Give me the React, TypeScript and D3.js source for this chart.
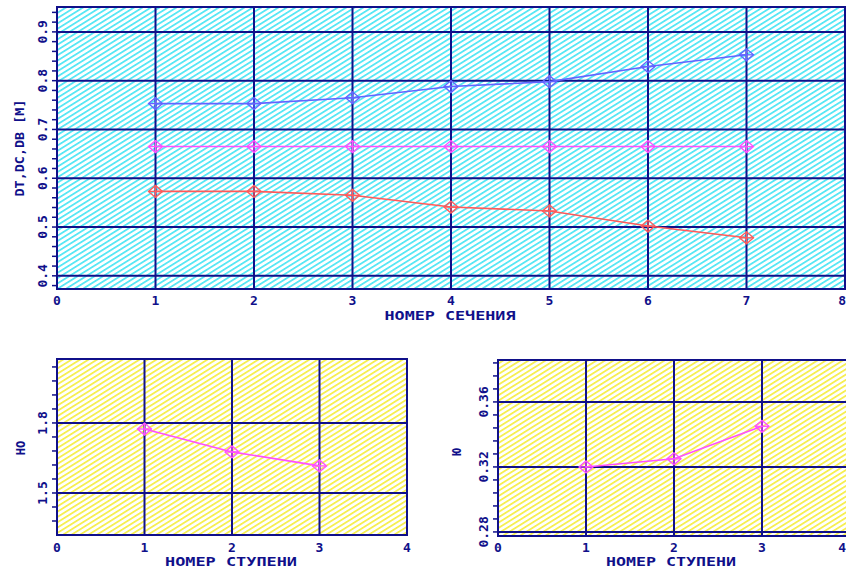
import React from 'react'
import * as d3 from 'd3'

// top chart: diameters by section number
const sections = [1, 2, 3, 4, 5, 6, 7]
const dtValues = [0.753, 0.753, 0.765, 0.788, 0.798, 0.829, 0.853]
const dcValues = [0.665, 0.665, 0.665, 0.665, 0.665, 0.665, 0.665]
const dbValues = [0.573, 0.573, 0.565, 0.541, 0.533, 0.502, 0.478]
const topYTicks = [0.4, 0.5, 0.6, 0.7, 0.8, 0.9]
const topYLabels = ['0.4', '0.5', '0.6', '0.7', '0.8', '0.9']

// bottom charts: by stage number
const stages = [1, 2, 3]
const hoValues = [1.774, 1.676, 1.616]
const hoYTicks = [1.5, 1.8]
const hoYLabels = ['1.5', '1.8']
const rhoValues = [0.32, 0.325, 0.345]
const rhoYTicks = [0.28, 0.32, 0.36]
const rhoYLabels = ['0.28', '0.32', '0.36']

const NAVY = '#10108a'
const FONT = '"DejaVu Sans Mono", monospace'
const W = 846

type PanelProps = {
  id: string
  x0: number; x1: number; y0: number; y1: number
  xMax: number
  yDomain: [number, number]
  yTicks: number[]
  yLabels: string[]
  minorStep: number
  labelX: number
  xTickY: number
  ylabel: string
  ylabelX: number
  ylabelY: number
  ylabelLen?: number
  xlabel: string
  xlabelX: number
  xlabelY: number
  xlabelLen: number
  series: { values: number[]; color: string }[]
  xs: number[]
}

function Marker({ cx, cy, color }: { cx: number; cy: number; color: string }) {
  const w = 7, h = 6
  return (
    <g stroke={color} strokeWidth={1.3} fill="none">
      <path d={`M${cx - w},${cy}L${cx},${cy - h}L${cx + w},${cy}L${cx},${cy + h}Z`} />
      <line x1={cx - w} x2={cx + w} y1={cy} y2={cy} />
      <line x1={cx} x2={cx} y1={cy - h} y2={cy + h} />
    </g>
  )
}

function Panel(p: PanelProps) {
  const x = d3.scaleLinear().domain([0, p.xMax]).range([p.x0, p.x1])
  const y = d3.scaleLinear().domain(p.yDomain).range([p.y1, p.y0])
  const minor = d3.range(Math.ceil(p.yDomain[0] / p.minorStep), Math.floor(p.yDomain[1] / p.minorStep) + 1)
    .map(k => k * p.minorStep)
  const line = d3.line<number>().x((d, i) => x(p.xs[i])).y(d => y(d))
  return (
    <g>
      <rect x={p.x0} y={p.y0} width={p.x1 - p.x0} height={p.y1 - p.y0} fill={`url(#${p.id})`} />
      {d3.range(1, p.xMax).map(v => (
        <line key={'vx' + v} x1={x(v)} x2={x(v)} y1={p.y0} y2={p.y1} stroke={NAVY} strokeWidth={2} />
      ))}
      {p.yTicks.map(v => (
        <line key={'hy' + v} x1={p.x0} x2={p.x1} y1={y(v)} y2={y(v)} stroke={NAVY} strokeWidth={2} />
      ))}
      {minor.map((v, i) => (
        <line key={'mt' + i} x1={p.x0 - 5} x2={p.x0} y1={y(v)} y2={y(v)} stroke={NAVY} strokeWidth={1.5} />
      ))}
      <rect x={p.x0} y={p.y0} width={p.x1 - p.x0} height={p.y1 - p.y0} fill="none" stroke={NAVY} strokeWidth={2} />
      {p.series.map((s, si) => (
        <g key={'s' + si}>
          <path d={line(s.values) || ''} fill="none" stroke={s.color} strokeWidth={1.6} />
          {s.values.map((v, i) => <Marker key={i} cx={x(p.xs[i])} cy={y(v)} color={s.color} />)}
        </g>
      ))}
      {d3.range(0, p.xMax + 1).map(v => {
        const tx = x(v)
        const clipped = tx > W - 6
        return (
          <text key={'xt' + v} x={clipped ? W : tx} y={p.xTickY} textAnchor={clipped ? 'end' : 'middle'}
            dominantBaseline="central" fill={NAVY} fontFamily={FONT} fontWeight="bold" fontSize={13}>{v}</text>
        )
      })}
      {p.yTicks.map((v, i) => (
        <text key={'yt' + v} transform={`translate(${p.labelX},${y(v)}) rotate(-90)`} textAnchor="middle"
          dominantBaseline="central" fill={NAVY} fontFamily={FONT} fontWeight="bold" fontSize={13}>{p.yLabels[i]}</text>
      ))}
      <text transform={`translate(${p.ylabelX},${p.ylabelY}) rotate(-90)`} textAnchor="middle" dominantBaseline="central"
        fill={NAVY} fontFamily={FONT} fontWeight="bold" fontSize={12}
        textLength={p.ylabelLen} lengthAdjust={p.ylabelLen ? 'spacingAndGlyphs' : undefined}>{p.ylabel}</text>
      <text x={p.xlabelX} y={p.xlabelY} textAnchor="middle" dominantBaseline="central"
        fill={NAVY} fontFamily={FONT} fontWeight="bold" fontSize={12}
        textLength={p.xlabelLen} lengthAdjust="spacingAndGlyphs">{p.xlabel}</text>
    </g>
  )
}

function Hatch({ id, color }: { id: string; color: string }) {
  return (
    <pattern id={id} patternUnits="userSpaceOnUse" width={5} height={4.5} patternTransform="rotate(-32)">
      <rect width={5} height={4.5} fill="#ffffff" />
      <rect y={0} width={5} height={1.7} fill={color} />
    </pattern>
  )
}

export default function App() {
  return (
    <svg width={846} height={574} style={{ position: 'absolute', left: 0, top: 0, background: '#fff' }}>
      <defs>
        <Hatch id="cyanHatch" color="#4fe6f4" />
        <Hatch id="yellowHatch" color="#f5ee4a" />
      </defs>
      <Panel id="cyanHatch" x0={57} x1={845} y0={7} y1={289} xMax={8}
        yDomain={[0.373, 0.951]} yTicks={topYTicks} yLabels={topYLabels} minorStep={0.02}
        labelX={42} xTickY={300}
        ylabel="DT,DC,DB [M]" ylabelX={20} ylabelY={148} ylabelLen={97}
        xlabel="НОМЕР СЕЧЕНИЯ" xlabelX={450} xlabelY={316} xlabelLen={131}
        xs={sections}
        series={[
          { values: dtValues, color: '#6464ff' },
          { values: dcValues, color: '#ff50ff' },
          { values: dbValues, color: '#ff5a5a' },
        ]} />
      <Panel id="yellowHatch" x0={57} x1={407} y0={359} y1={535} xMax={4}
        yDomain={[1.32, 2.074]} yTicks={hoYTicks} yLabels={hoYLabels} minorStep={0.06}
        labelX={42} xTickY={547}
        ylabel="НО" ylabelX={21} ylabelY={448}
        xlabel="НОМЕР СТУПЕНИ" xlabelX={231} xlabelY={562} xlabelLen={132}
        xs={stages}
        series={[{ values: hoValues, color: '#ff50ff' }]} />
      <Panel id="yellowHatch" x0={498} x1={850} y0={360} y1={536} xMax={4}
        yDomain={[0.2775, 0.3858]} yTicks={rhoYTicks} yLabels={rhoYLabels} minorStep={0.008}
        labelX={483} xTickY={547}
        ylabel="Ю" ylabelX={457} ylabelY={452}
        xlabel="НОМЕР СТУПЕНИ" xlabelX={671} xlabelY={562} xlabelLen={130}
        xs={stages}
        series={[{ values: rhoValues, color: '#ff50ff' }]} />
    </svg>
  )
}
